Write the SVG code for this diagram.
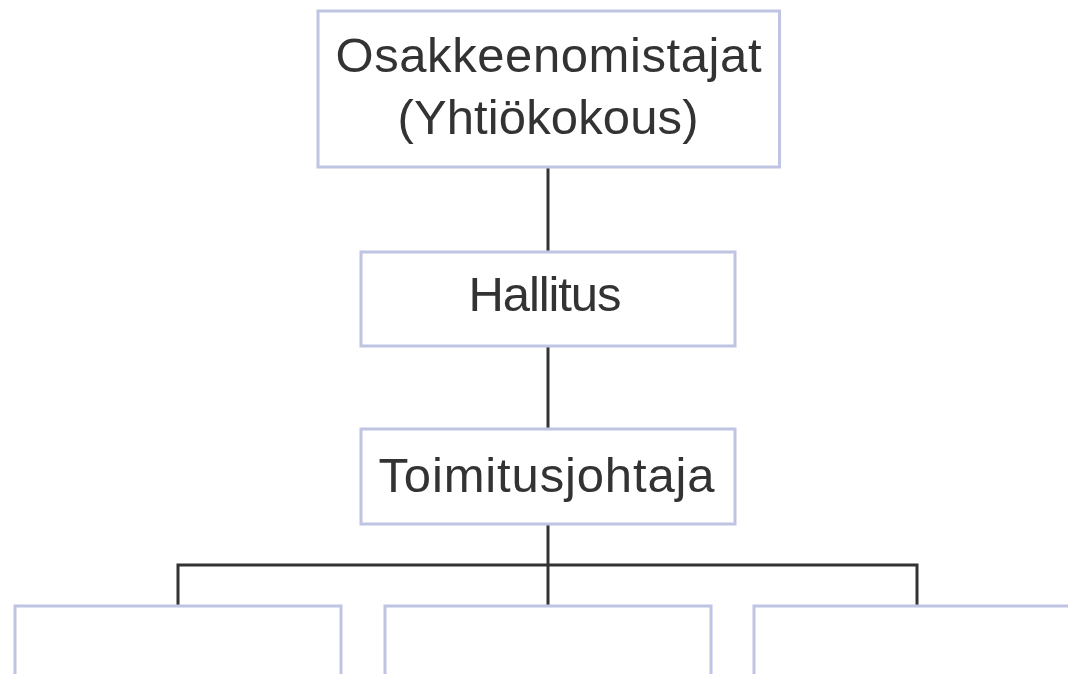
<svg xmlns="http://www.w3.org/2000/svg" width="1068" height="674" viewBox="0 0 1068 674">
<style>
.box{fill:#ffffff;stroke:#bfc4e2;stroke-width:3}
.lbl{font-family:"Liberation Sans",Arial,sans-serif;font-size:49px;fill:#333333;text-anchor:middle}
.conn{fill:none;stroke:#333333;stroke-width:3}
</style>
<rect width="1068" height="674" fill="#ffffff"/>
<g id="connectors">
<line class="conn" x1="548" y1="167" x2="548" y2="252"/>
<line class="conn" x1="548" y1="346" x2="548" y2="429"/>
<line class="conn" x1="548" y1="524" x2="548" y2="606"/>
<polyline class="conn" points="178,606 178,565 917,565 917,606"/>
</g>
<g id="node-osakkeenomistajat">
<rect class="box" x="318" y="11" width="461.5" height="156"/>
<text class="lbl" x="548.5" y="72" textLength="426" lengthAdjust="spacing">Osakkeenomistajat</text>
<text class="lbl" x="548" y="134" textLength="301" lengthAdjust="spacing">(Yhtiökokous)</text>
</g>
<g id="node-hallitus">
<rect class="box" x="361" y="252" width="374" height="94"/>
<text class="lbl" x="545" y="311" textLength="153" lengthAdjust="spacing">Hallitus</text>
</g>
<g id="node-toimitusjohtaja">
<rect class="box" x="361" y="429" width="374" height="95"/>
<text class="lbl" x="546.5" y="492" textLength="336" lengthAdjust="spacing">Toimitusjohtaja</text>
</g>
<g id="node-sub1">
<rect class="box" x="15" y="606" width="326" height="80"/>
</g>
<g id="node-sub2">
<rect class="box" x="385" y="606" width="326" height="80"/>
</g>
<g id="node-sub3">
<rect class="box" x="754" y="606" width="326" height="80"/>
</g>
</svg>
